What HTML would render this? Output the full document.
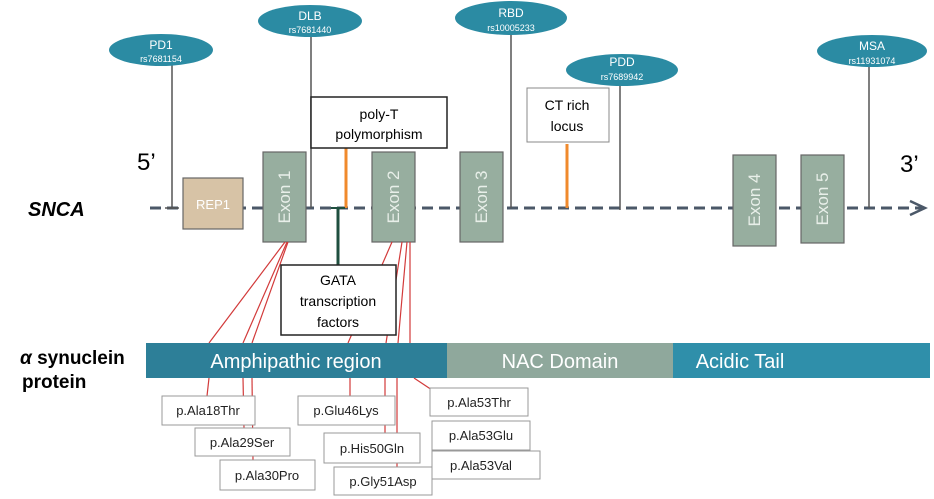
<!DOCTYPE html>
<html><head><meta charset="utf-8"><style>
html,body{margin:0;padding:0;background:#fff;}
svg{display:block;font-family:"Liberation Sans",sans-serif;}
</style></head><body>
<svg width="934" height="499" viewBox="0 0 934 499" xmlns="http://www.w3.org/2000/svg">
<line x1="150" y1="208" x2="922" y2="208" stroke="#4b5868" stroke-width="3" stroke-dasharray="11,6"/>
<polyline points="910,201 925,208 910,215" fill="none" stroke="#4b5868" stroke-width="2.5"/>
<text x="137" y="170" font-size="24">5’</text>
<text x="900" y="172" font-size="24">3’</text>
<text x="28" y="216" font-size="20" font-weight="bold" font-style="italic">SNCA</text>
<g stroke="#555" stroke-width="1.5">
<line x1="172" y1="62" x2="172" y2="208"/><line x1="165" y1="208" x2="179" y2="208"/>
<line x1="311" y1="34" x2="311" y2="208"/>
<line x1="511" y1="30" x2="511" y2="208"/>
<line x1="620" y1="84" x2="620" y2="210"/>
<line x1="869" y1="64" x2="869" y2="208"/>
</g>
<g fill="#2b8ba3">
<ellipse cx="161" cy="50" rx="52" ry="16"/>
<ellipse cx="310" cy="21" rx="52" ry="16"/>
<ellipse cx="511" cy="18" rx="56" ry="17"/>
<ellipse cx="622" cy="70" rx="56" ry="16"/>
<ellipse cx="872" cy="51" rx="55" ry="16"/>
</g>
<g fill="#fff" text-anchor="middle">
<text x="161" y="49" font-size="12">PD1</text><text x="161" y="62" font-size="9">rs7681154</text>
<text x="310" y="20" font-size="12">DLB</text><text x="310" y="33" font-size="9">rs7681440</text>
<text x="511" y="17" font-size="12">RBD</text><text x="511" y="31" font-size="9">rs10005233</text>
<text x="622" y="66" font-size="12">PDD</text><text x="622" y="80" font-size="9">rs7689942</text>
<text x="872" y="50" font-size="12">MSA</text><text x="872" y="64" font-size="9">rs11931074</text>
</g>
<rect x="183" y="178" width="60" height="51" fill="#d7c3a6" stroke="#666" stroke-width="1.2"/>
<text x="213" y="209" fill="#fff" font-size="13" text-anchor="middle">REP1</text>
<g fill="#97ae9f" stroke="#666" stroke-width="1.2">
<rect x="263" y="152" width="43" height="90"/>
<rect x="372" y="152" width="43" height="90"/>
<rect x="460" y="152" width="43" height="90"/>
<rect x="733" y="155" width="43" height="91"/>
<rect x="801" y="155" width="43" height="88"/>
</g>
<g fill="#e8efe9" font-size="17" text-anchor="middle">
<text transform="translate(290,197) rotate(-90)">Exon 1</text>
<text transform="translate(399,197) rotate(-90)">Exon 2</text>
<text transform="translate(487,197) rotate(-90)">Exon 3</text>
<text transform="translate(760,200) rotate(-90)">Exon 4</text>
<text transform="translate(828,199) rotate(-90)">Exon 5</text>
</g>
<line x1="346" y1="148" x2="346" y2="208" stroke="#f08a2c" stroke-width="3"/>
<rect x="311" y="97" width="136" height="51" fill="#fff" stroke="#222" stroke-width="1.5"/>
<text x="379" y="119" font-size="14" text-anchor="middle">poly-T</text>
<text x="379" y="139" font-size="14" text-anchor="middle">polymorphism</text>
<line x1="567" y1="144" x2="567" y2="208" stroke="#f08a2c" stroke-width="3"/>
<rect x="527" y="88" width="82" height="54" fill="#fff" stroke="#888" stroke-width="1"/>
<text x="567" y="110" font-size="14" text-anchor="middle">CT rich</text>
<text x="567" y="131" font-size="14" text-anchor="middle">locus</text>
<line x1="338" y1="208" x2="338" y2="266" stroke="#1f4f3f" stroke-width="3"/>
<line x1="331" y1="208" x2="345" y2="208" stroke="#1f4f3f" stroke-width="2"/>
<g stroke="#d23a3a" stroke-width="1.2" fill="none">
<line x1="285" y1="242" x2="209" y2="343"/>
<line x1="287" y1="242" x2="243" y2="343"/>
<line x1="288" y1="242" x2="252" y2="343"/>
<line x1="209" y1="378" x2="207" y2="396"/>
<line x1="243" y1="378" x2="244" y2="428"/>
<line x1="252" y1="378" x2="253" y2="460"/>
<line x1="392" y1="242" x2="348" y2="343"/>
<line x1="402" y1="242" x2="386" y2="343"/>
<line x1="407" y1="242" x2="398" y2="343"/>
<line x1="410" y1="242" x2="410" y2="343"/>
<line x1="350" y1="378" x2="350" y2="396"/>
<line x1="385" y1="378" x2="385" y2="433"/>
<line x1="397" y1="378" x2="397" y2="467"/>
<line x1="414" y1="378" x2="432" y2="390"/>
</g>
<rect x="281" y="265" width="115" height="70" fill="#fff" stroke="#222" stroke-width="1.5"/>
<g font-size="14" text-anchor="middle">
<text x="338" y="285">GATA</text>
<text x="338" y="306">transcription</text>
<text x="338" y="327">factors</text>
</g>
<rect x="146" y="343" width="301" height="35" fill="#2d7f98"/>
<rect x="447" y="343" width="226" height="35" fill="#8fa89c"/>
<rect x="673" y="343" width="257" height="35" fill="#2f8faa"/>
<text x="296" y="368" fill="#fff" font-size="20" text-anchor="middle">Amphipathic region</text>
<text x="560" y="368" fill="#fff" font-size="20" text-anchor="middle">NAC Domain</text>
<text x="740" y="368" fill="#fff" font-size="20" text-anchor="middle">Acidic Tail</text>
<text x="20" y="364" font-size="19" font-weight="bold"><tspan font-style="italic">α</tspan> synuclein</text>
<text x="22" y="388" font-size="19" font-weight="bold">protein</text>
<g fill="#fff" stroke="#999" stroke-width="1">
<rect x="162" y="396" width="93" height="29"/>
<rect x="195" y="428" width="95" height="28"/>
<rect x="220" y="460" width="95" height="30"/>
<rect x="298" y="396" width="97" height="29"/>
<rect x="324" y="433" width="96" height="30"/>
<rect x="334" y="467" width="98" height="28"/>
<rect x="430" y="388" width="98" height="28"/>
<rect x="432" y="421" width="98" height="29"/>
<rect x="432" y="451" width="108" height="28"/>
</g>
<g font-size="13" text-anchor="middle" fill="#222">
<text x="208" y="415">p.Ala18Thr</text>
<text x="242" y="447">p.Ala29Ser</text>
<text x="267" y="480">p.Ala30Pro</text>
<text x="346" y="415">p.Glu46Lys</text>
<text x="372" y="453">p.His50Gln</text>
<text x="383" y="486">p.Gly51Asp</text>
<text x="479" y="407">p.Ala53Thr</text>
<text x="481" y="440">p.Ala53Glu</text>
<text x="481" y="470">p.Ala53Val</text>
</g>
</svg>
</body></html>
